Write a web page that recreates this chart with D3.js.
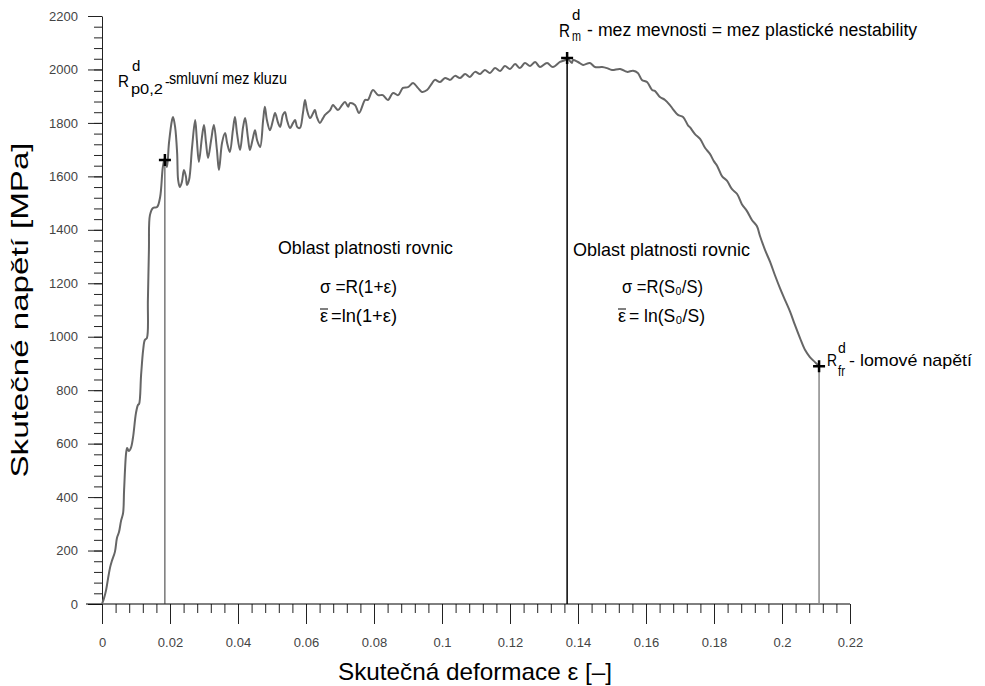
<!DOCTYPE html>
<html>
<head>
<meta charset="utf-8">
<script src="https://cdn.jsdelivr.net/npm/d3@7"></script>
<style>
  body { margin: 0; background: #fff; }
  text { font-family: "Liberation Sans", Arial, sans-serif; }
</style>
</head>
<body>
<div id="chart"></div>
<script>
// true strain [-] and true stress [MPa]
var strain = [0, .0006, .0012, .0018, .0024, .0029, .0038, .0044, .0050, .0056,
  .0062, .0065, .0071, .0074, .0079, .0085, .0091, .0100, .0106, .0109,
  .0115, .0121, .0126, .0132, .0135, .0138, .0141, .0150, .0162, .0171,
  .0179, .0185, .0191, .0197, .0206, .0209, .0215, .0221, .0224, .0229,
  .0235, .0241, .0247, .0250, .0256, .0265, .0274, .0279, .0285, .0294,
  .0300, .0306, .0312, .0321, .0329, .0338, .0344, .0353, .0362, .0368,
  .0376, .0385, .0391, .0397, .0406, .0415, .0421, .0429, .0435, .0444,
  .0450, .0456, .0465, .0474, .0479, .0485, .0494, .0503, .0509, .0518,
  .0524, .0532, .0538, .0544, .0553, .0562, .0568, .0574, .0582, .0591,
  .0597, .0603, .0612, .0621, .0626, .0632, .0641, .0650, .0656, .0662,
  .0671, .0679, .0685, .0694, .0706, .0715, .0724, .0729, .0744, .0756,
  .0774, .0782, .0797, .0812, .0826, .0841, .0856, .0871, .0885, .0900,
  .0915, .0929, .0941, .0956, .0971, .0979, .0994, .1009, .1024, .1038,
  .1053, .1068, .1082, .1097, .1112, .1126, .1141, .1156, .1171, .1185,
  .1200, .1215, .1229, .1244, .1259, .1274, .1288, .1309, .1326, .1347,
  .1362, .1368, .1382, .1385, .1400, .1415, .1435, .1450, .1471, .1485,
  .1500, .1524, .1544, .1562, .1576, .1588, .1603, .1618, .1626, .1641,
  .1656, .1671, .1679, .1694, .1709, .1724, .1729, .1744, .1759, .1774,
  .1788, .1800, .1809, .1824, .1838, .1853, .1868, .1882, .1897, .1912,
  .1926, .1935, .1950, .1965, .1979, .1994, .2009, .2024, .2038, .2053,
  .2068, .2082, .2097, .2109];

var stress = [0, 22, 52, 97, 138, 161, 195, 247, 269, 311,
  340, 427, 565, 584, 572, 584, 621, 715, 745, 748,
  857, 950, 988, 995, 1137, 1325, 1455, 1482, 1485, 1523,
  1635, 1669, 1635, 1725, 1811, 1822, 1785, 1687, 1586, 1560,
  1579, 1624, 1598, 1568, 1586, 1710, 1811, 1736, 1654, 1747,
  1792, 1725, 1669, 1736, 1792, 1699, 1624, 1725, 1762, 1725,
  1691, 1773, 1822, 1762, 1699, 1785, 1818, 1747, 1699, 1744,
  1773, 1736, 1710, 1811, 1860, 1811, 1773, 1811, 1837, 1800,
  1785, 1830, 1841, 1811, 1781, 1800, 1811, 1785, 1781, 1837,
  1886, 1848, 1818, 1837, 1848, 1822, 1800, 1818, 1830, 1837,
  1848, 1867, 1860, 1848, 1867, 1878, 1860, 1874, 1867, 1837,
  1886, 1886, 1923, 1904, 1904, 1886, 1912, 1904, 1931, 1934,
  1949, 1931, 1916, 1923, 1949, 1961, 1953, 1968, 1961, 1976,
  1968, 1983, 1972, 1991, 1983, 1998, 1987, 2005, 1994, 2013,
  2002, 2020, 2005, 2024, 2013, 2028, 2009, 2024, 2009, 2028,
  2035, 2043, 2024, 2035, 2028, 2017, 2024, 2009, 2009, 2005,
  1998, 2002, 1991, 1995, 1987, 1961, 1953, 1923, 1920, 1897,
  1886, 1866, 1852, 1830, 1822, 1790, 1784, 1758, 1740, 1706,
  1684, 1656, 1640, 1600, 1584, 1552, 1534, 1496, 1470, 1436,
  1414, 1378, 1325, 1280, 1231, 1182, 1137, 1093, 1044, 995,
  950, 924, 905, 890];

// marked points: Rp0,2 / Rm / Rfr
var markStrain = [0.0185, 0.1368, 0.2109];
var markStress = [1661, 2043, 890];

var xTicks = [0, 0.02, 0.04, 0.06, 0.08, 0.1, 0.12, 0.14, 0.16, 0.18, 0.2, 0.22];
var yTicks = [0, 200, 400, 600, 800, 1000, 1200, 1400, 1600, 1800, 2000, 2200];

var width = 985,
  height = 686;

var x = d3.scaleLinear().domain([0, 0.22]).range([102, 850]);
var y = d3.scaleLinear().domain([0, 2200]).range([604, 16]);

var svg = d3.select('#chart').append('svg')
  .attr('width', width)
  .attr('height', height);

// y axis, minor then major ticks
svg.append('g')
  .attr('transform', 'translate(' + x(0) + ',0)')
  .call(d3.axisLeft(y).tickValues(d3.range(0, 2201, 40)).tickSize(8).tickSizeOuter(0).tickFormat(''))
  .call(function(g) { g.select('.domain').remove(); });

var yAxis = svg.append('g')
  .attr('transform', 'translate(' + x(0) + ',0)')
  .call(d3.axisLeft(y).tickValues(yTicks).tickSize(14).tickSizeOuter(0).tickPadding(10)
    .tickFormat(function(d) { return String(d); }));

yAxis.selectAll('text')
  .attr('fill', '#444')
  .style('font-size', '13px');

// x axis
svg.append('g')
  .attr('transform', 'translate(0,' + y(0) + ')')
  .call(d3.axisBottom(x).tickValues(d3.range(0, 0.2201, 0.004)).tickSize(9).tickSizeOuter(0).tickFormat(''))
  .call(function(g) { g.select('.domain').remove(); });

var xAxis = svg.append('g')
  .attr('transform', 'translate(0,' + y(0) + ')')
  .call(d3.axisBottom(x).tickValues(xTicks).tickSize(20).tickSizeOuter(0).tickPadding(14)
    .tickFormat(function(d) { return String(d); }));

xAxis.select('.domain').remove();
xAxis.selectAll('text')
  .attr('fill', '#444')
  .style('font-size', '13px');

svg.append('line')
  .attr('x1', x(0) - 16)
  .attr('x2', x(0.22))
  .attr('y1', y(0))
  .attr('y2', y(0))
  .attr('stroke', '#000');

svg.selectAll('.tick line').attr('stroke', '#222');
svg.selectAll('.domain').attr('stroke', '#222');

// vertical drop lines
var dropColor = ['#333', '#000', '#888'];
var dropWidth = [1, 1.5, 1.5];
svg.selectAll('.drop')
  .data(markStrain)
  .enter().append('line')
    .attr('class', 'drop')
    .attr('x1', function(d) { return x(d); })
    .attr('x2', function(d) { return x(d); })
    .attr('y1', y(0))
    .attr('y2', function(d, i) { return y(markStress[i]); })
    .attr('stroke', function(d, i) { return dropColor[i]; })
    .attr('stroke-width', function(d, i) { return dropWidth[i]; });

// curve
var line = d3.line()
  .x(function(d, i) { return x(strain[i]); })
  .y(function(d) { return y(d); })
  .curve(d3.curveCatmullRom.alpha(0.5));

svg.append('path')
  .datum(stress)
  .attr('fill', 'none')
  .attr('stroke', '#666')
  .attr('stroke-width', 2)
  .attr('stroke-linejoin', 'round')
  .attr('d', line);

// crosses
svg.selectAll('.cross')
  .data(markStrain)
  .enter().append('path')
    .attr('class', 'cross')
    .attr('d', function(d, i) {
      var cx = x(d), cy = y(markStress[i]);
      return 'M' + (cx - 6) + ',' + cy + 'H' + (cx + 6) + 'M' + cx + ',' + (cy - 6) + 'V' + (cy + 6);
    })
    .attr('stroke', '#000')
    .attr('stroke-width', 2.5);

// text helper
function label(tx, ty, str, size, len) {
  var t = svg.append('text')
    .attr('x', tx)
    .attr('y', ty)
    .attr('fill', '#000')
    .style('font-size', size + 'px')
    .text(str);
  if (len) t.attr('textLength', len).attr('lengthAdjust', 'spacingAndGlyphs');
  return t;
}

// ε with a bar over it
function epsBar(tx, ty) {
  label(tx, ty, 'ε', 18, 8);
  svg.append('line')
    .attr('x1', tx).attr('x2', tx + 8)
    .attr('y1', ty - 13).attr('y2', ty - 13)
    .attr('stroke', '#000')
    .attr('stroke-width', 1);
}

// Rp0,2
var px = x(markStrain[0]), py = y(markStress[0]);
label(px - 47, py - 73, 'R', 17, 11);
label(px - 33, py - 89, 'd', 15);
label(px - 34, py - 66, 'p0,2', 15, 32);
label(px, py - 73, '-', 14);
label(px + 4, py - 76, 'smluvní mez kluzu', 16, 118);

// Rm
var mx = x(markStrain[1]), my = y(markStress[1]);
label(mx - 8, my - 21, 'R', 18, 11);
label(mx + 5, my - 38, 'd', 15);
label(mx + 5, my - 17, 'm', 15, 9);
label(mx + 20, my - 22, '- mez mevnosti = mez plastické nestability', 18, 330);

// Rfr
var fx = x(markStrain[2]), fy = y(markStress[2]);
label(fx + 8, fy, 'R', 17, 10);
label(fx + 19, fy - 13, 'd', 14);
label(fx + 19, fy + 10, 'fr', 14, 7);
label(fx + 30, fy, '- lomové napětí', 17, 123);

// regions
label(278, 254, 'Oblast platnosti rovnic', 19, 175);
label(320, 293, 'σ =R(1+ε)', 18, 77);
epsBar(320, 322);
label(331, 322, '=ln(1+ε)', 18, 66);

label(573, 256, 'Oblast platnosti rovnic', 19, 177);
label(622, 293, 'σ =R(S₀/S)', 18, 81);
epsBar(618, 322);
label(629, 322, '= ln(S₀/S)', 18, 76);

// axis titles
svg.append('text')
  .attr('transform', 'translate(28,310) rotate(-90)')
  .attr('text-anchor', 'middle')
  .style('font-size', '24px')
  .attr('textLength', 335)
  .attr('lengthAdjust', 'spacingAndGlyphs')
  .text('Skutečné napětí [MPa]');

svg.append('text')
  .attr('x', 338)
  .attr('y', 680)
  .style('font-size', '24px')
  .attr('textLength', 274)
  .attr('lengthAdjust', 'spacingAndGlyphs')
  .text('Skutečná deformace ε [–]');
</script>
</body>
</html>
